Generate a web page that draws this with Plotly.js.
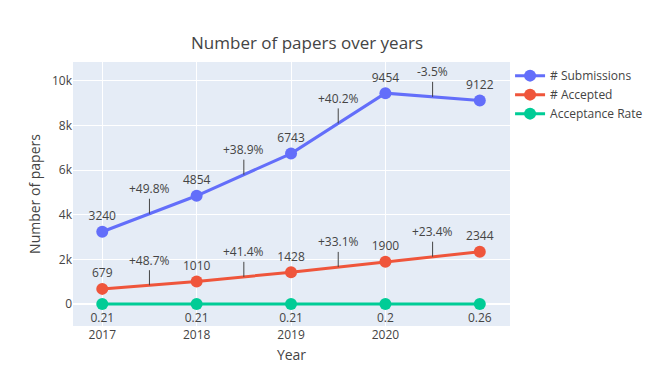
<!DOCTYPE html>
<html>
<head>
<meta charset="utf-8">
<script src="https://cdn.plot.ly/plotly-3.0.1.min.js"></script>
<style>html,body{margin:0;padding:0;background:#fff;}#chart{width:659px;height:375px;}</style>
</head>
<body>
<div id="chart"></div>
<script>
var years = [2017, 2018, 2019, 2020, 2021];
var submissions = [3240, 4854, 6743, 9454, 9122];
var accepted = [679, 1010, 1428, 1900, 2344];
var acceptanceRate = [0.21, 0.21, 0.21, 0.2, 0.26];
var submissionGrowth = ['+49.8%', '+38.9%', '+40.2%', '-3.5%'];
var acceptedGrowth = ['+48.7%', '+41.4%', '+33.1%', '+23.4%'];
var xTickVals = [2017, 2018, 2019, 2020];
var xTickText = ['2017', '2018', '2019', '2020'];

var traces = [
  {x: years, y: submissions, name: '# Submissions', text: submissions.map(String), textposition: 'top center', mode: 'lines+markers+text', textfont: {size: 12}, line: {width: 3, color: '#636efa'}, marker: {size: 12, color: '#636efa'}},
  {x: years, y: accepted, name: '# Accepted', text: accepted.map(String), textposition: 'top center', mode: 'lines+markers+text', textfont: {size: 12}, line: {width: 3, color: '#EF553B'}, marker: {size: 12, color: '#EF553B'}},
  {x: years, y: acceptanceRate, name: 'Acceptance Rate', text: acceptanceRate.map(String), textposition: 'bottom center', mode: 'lines+markers+text', textfont: {size: 12}, line: {width: 3, color: '#00cc96'}, marker: {size: 12, color: '#00cc96'}}
];

function growthAnnotations(vals, labels) {
  var out = [];
  for (var i = 0; i < labels.length; i++) {
    out.push({
      x: (years[i] + years[i + 1]) / 2,
      y: (vals[i] + vals[i + 1]) / 2,
      text: labels[i],
      showarrow: true, arrowhead: 0, arrowwidth: 1, arrowcolor: '#444',
      ax: 0, ay: -25,
      font: {size: 12, color: '#444'}
    });
  }
  return out;
}

var layout = {
  width: 659, height: 375,
  margin: {l: 73, r: 149, t: 62, b: 49},
  font: {family: '"Open Sans", verdana, arial, sans-serif', color: '#444'},
  paper_bgcolor: '#fff', plot_bgcolor: '#E5ECF6',
  title: {text: 'Number of papers over years', font: {size: 17, color: '#444'}, x: 0.466, xref: 'container', y: 0.885, yref: 'container', xanchor: 'center', yanchor: 'middle'},
  xaxis: {title: {text: 'Year', font: {size: 14}, standoff: 8}, automargin: false, range: [2016.69, 2021.32], tickvals: xTickVals, ticktext: xTickText, gridcolor: '#fff', zeroline: false, tickfont: {size: 12}},
  yaxis: {title: {text: 'Number of papers', font: {size: 14}, standoff: 8}, automargin: false, range: [-985, 10850], dtick: 2000, gridcolor: '#fff', zerolinecolor: '#fff', zerolinewidth: 2, tickfont: {size: 12}},
  legend: {xref: 'container', yref: 'container', x: 0.774, y: 0.837, xanchor: 'left', yanchor: 'top', font: {size: 12}, tracegroupgap: 0},
  annotations: growthAnnotations(submissions, submissionGrowth).concat(growthAnnotations(accepted, acceptedGrowth)),
  showlegend: true
};

Plotly.newPlot('chart', traces, layout, {displayModeBar: false, staticPlot: true});
</script>
</body>
</html>
